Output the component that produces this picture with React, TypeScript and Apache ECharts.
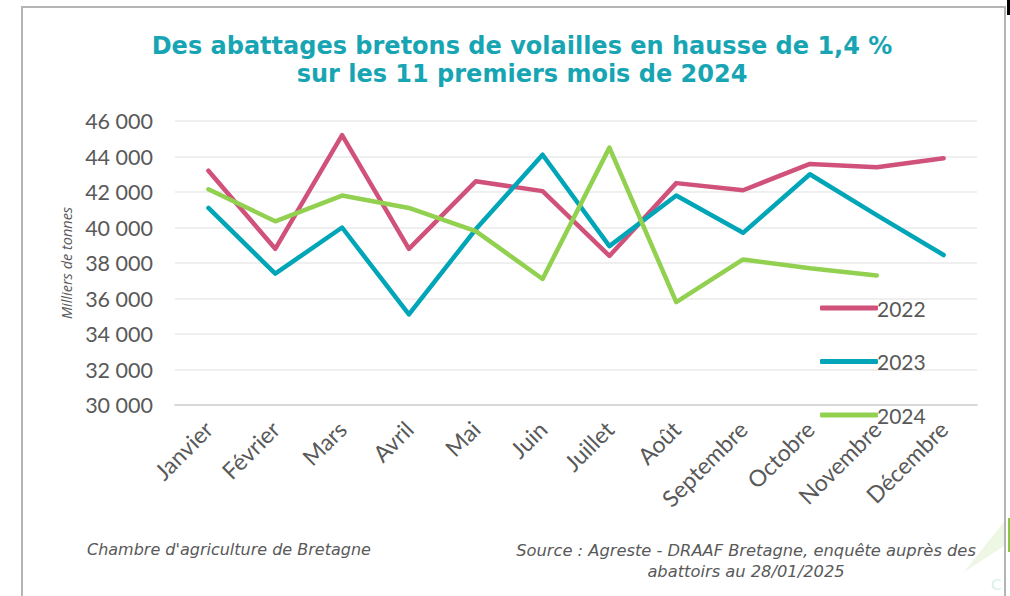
import React, { useEffect, useRef } from "react";
import * as echarts from "echarts";

const months = ["Janvier", "Février", "Mars", "Avril", "Mai", "Juin", "Juillet", "Août", "Septembre", "Octobre", "Novembre", "Décembre"];
const values2022 = [43200, 38800, 45200, 38800, 42600, 42050, 38400, 42500, 42100, 43580, 43400, 43900];
const values2023 = [41100, 37400, 40000, 35100, 39900, 44100, 38950, 41800, 39700, 43000, 40700, 38450];
const values2024 = [42150, 40350, 41800, 41100, 39800, 37100, 44500, 35800, 38200, 37700, 37300];
const seriesNames = ["2022", "2023", "2024"];
const colors = ["#d0527a", "#00a6b8", "#92d050"];

const titleLines = ["Des abattages bretons de volailles en hausse de 1,4 %", "sur les 11 premiers mois de 2024"];
const footLeft = "Chambre d'agriculture de Bretagne";
const footRight = "Source : Agreste - DRAAF Bretagne, enquête auprès des\nabattoirs au 28/01/2025";

const fmt = (v: number) => {
  const s = String(Math.round(v));
  return s.replace(/\B(?=(\d{3})+(?!\d))/g, " ");
};

export default function App() {
  const ref = useRef<HTMLDivElement>(null);
  useEffect(() => {
    if (!ref.current) return;
    const chart = echarts.init(ref.current, null, { renderer: "svg" });
    const data = [values2022, values2023, values2024];
    chart.setOption({
      animation: false,
      backgroundColor: "#ffffff",
      textStyle: { fontFamily: "Lato" },
      title: {
        text: titleLines.join("\n"),
        left: 517,
        textAlign: "center",
        top: 27,
        textStyle: {
          fontFamily: "DejaVu Sans",
          fontWeight: "bold",
          fontSize: 24,
          lineHeight: 28,
          color: "#17a5b3",
        },
      },
      legend: {
        orient: "vertical",
        left: 815,
        top: 292.5,
        itemGap: 32.5,
        itemWidth: 58,
        itemHeight: 5,
        icon: "roundRect",
        data: seriesNames,
        textStyle: { fontFamily: "Lato", fontSize: 21, color: "#595959", padding: [0, 0, 0, -6] },
      },
      grid: { left: 175, right: 33, top: 121, bottom: 191 },
      xAxis: {
        type: "category",
        data: months,
        boundaryGap: true,
        axisLine: { show: true, lineStyle: { color: "#d9d9d9", width: 2 } },
        axisTick: { show: false },
        axisLabel: {
          rotate: 45,
          fontFamily: "Lato",
          fontSize: 23,
          color: "#595959",
          margin: 20,
          interval: 0,
        },
      },
      yAxis: {
        type: "value",
        min: 30000,
        max: 46000,
        interval: 2000,
        name: "Milliers de tonnes",
        nameLocation: "middle",
        nameRotate: 90,
        nameGap: 100,
        nameTextStyle: { fontFamily: "Open Sans", fontStyle: "italic", fontSize: 14.5, color: "#595959" },
        axisLine: { show: false },
        axisTick: { show: false },
        splitLine: { lineStyle: { color: "#efefef", width: 2 } },
        axisLabel: { fontFamily: "Lato", fontSize: 21.5, color: "#595959", margin: 22, formatter: (v: number) => fmt(v) },
      },
      series: seriesNames.map((n, i) => ({
        name: n,
        type: "line",
        data: data[i],
        symbol: "none",
        color: colors[i],
        lineStyle: { width: 4.5, color: colors[i], cap: "round", join: "round" },
        itemStyle: { color: colors[i] },
      })),
      graphic: [
        { type: "line", shape: { x1: 22, y1: 7, x2: 22, y2: 596 }, style: { stroke: "#b4b4b4", lineWidth: 2 } },
        { type: "line", shape: { x1: 21, y1: 7, x2: 1006, y2: 7 }, style: { stroke: "#b4b4b4", lineWidth: 2 } },
        { type: "line", shape: { x1: 1005, y1: 7, x2: 1005, y2: 596 }, style: { stroke: "#b4b4b4", lineWidth: 2 } },
        { type: "rect", shape: { x: 1007, y: 0, width: 3, height: 15 }, style: { fill: "#000000" } },
        { type: "rect", shape: { x: 1008, y: 518, width: 2, height: 34 }, style: { fill: "#8cc63f" } },
        { type: "polygon", shape: { points: [[964, 572], [1004, 522], [1004, 546]] }, style: { fill: "#eef6e4" } },
        { type: "text", x: 991, y: 575, style: { text: "C", fontFamily: "Lato", fontSize: 16, fill: "#d8efe9" } },
        {
          type: "text",
          x: 87,
          y: 549,
          style: { text: footLeft, fontFamily: "DejaVu Sans", fontStyle: "italic", fontSize: 16, fill: "#595959", verticalAlign: "middle" },
        },
        {
          type: "text",
          x: 746,
          y: 540,
          style: {
            text: footRight,
            fontFamily: "DejaVu Sans",
            fontStyle: "italic",
            fontSize: 16.3,
            lineHeight: 21,
            fill: "#595959",
            align: "center",
            verticalAlign: "top",
          },
        },
      ],
    });
    return () => chart.dispose();
  }, []);
  return <div ref={ref} style={{ position: "fixed", left: 0, top: 0, width: 1010, height: 596 }} />;
}
